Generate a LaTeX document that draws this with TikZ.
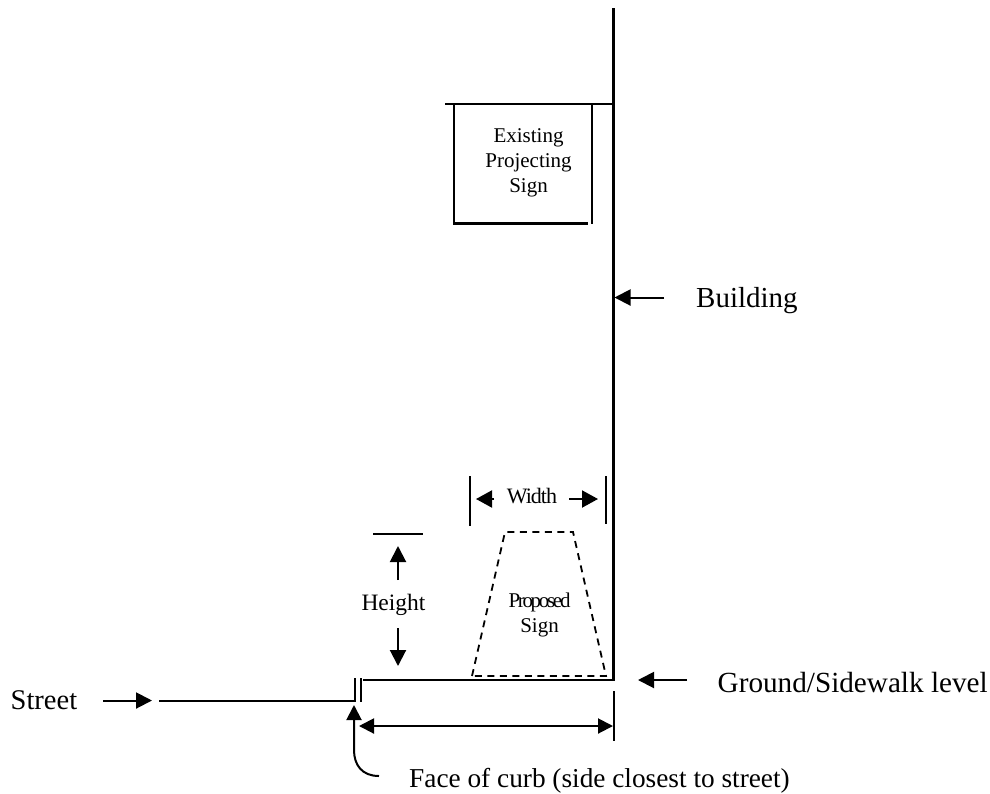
\documentclass[tikz,border=0pt]{standalone}
\usepackage{fontspec}
\setmainfont{Liberation Serif}
\usetikzlibrary{arrows.meta}
\tikzset{
 ln/.style={line width=2pt,black,line cap=butt},
 thick2/.style={line width=2.3pt,black},
 arr/.style={ln,-{Triangle[length=16pt,width=16pt]}},
 dsh/.style={line width=1.8pt,dash pattern=on 7pt off 5.5pt},
 lbl/.style={inner sep=0pt,align=center},
}
\begin{document}
\begin{tikzpicture}[x=1pt,y=-1pt]
\useasboundingbox (0,0) rectangle (990,793);
% building and ground
\coordinate (bt) at (613.5,8);
\coordinate (bc) at (613.5,680);
\coordinate (gl) at (363,680);
\draw[thick2,line join=miter] (bt) -- (bc) -- (gl);
% existing sign
\coordinate (a1) at (445,104);
\coordinate (a2) at (613.5,104);
\draw[thick2] (a1) -- (a2);
\coordinate (s1) at (454,104);
\coordinate (s2) at (454,223.5);
\coordinate (s3) at (588,223.5);
\coordinate (s4) at (592,104);
\coordinate (s5) at (592,224);
\draw[thick2] (s1) -- (s2) -- (s3);
\draw[thick2] (s4) -- (s5);
\node[lbl,font=\fontsize{21}{25}\selectfont] (existing) at (528.5,163) {Existing\\Projecting\\Sign};
% building label
\node[lbl,anchor=base west,font=\fontsize{29}{32}\selectfont] (building) at (696,307.5) {Building};
\coordinate (bp) at (614.5,297.5);
\coordinate (bq) at (664,297.5);
\draw[arr] (bq) -- (bp);
% width
\coordinate (w1a) at (470,476);
\coordinate (w1b) at (470,526);
\coordinate (w2a) at (606,476);
\coordinate (w2b) at (606,524);
\draw[ln] (w1a) -- (w1b);
\draw[ln] (w2a) -- (w2b);
\node[lbl,font=\fontsize{22}{24}\selectfont] (width) at (532,496) {\addfontfeatures{LetterSpace=-4.5}Width};
\coordinate (wl) at (476,499);
\coordinate (wl0) at (494,499);
\coordinate (wr) at (598,499);
\coordinate (wr0) at (569,499);
\draw[ln,-{Triangle[length=16pt,width=17pt]}] (wl0) -- (wl);
\draw[ln,-{Triangle[length=16pt,width=17pt]}] (wr0) -- (wr);
% proposed sign
\coordinate (p1) at (472,676);
\coordinate (p2) at (505,532);
\coordinate (p3) at (573,532);
\coordinate (p4) at (606,676);
\draw[dsh] (p1) -- (p2) -- (p3) -- (p4) -- cycle;
\node[lbl,font=\fontsize{21}{24.5}\selectfont] (proposed) at (539.5,615) {{\addfontfeatures{LetterSpace=-11}Proposed}\\Sign};
% height
\coordinate (ht1) at (373,534);
\coordinate (ht2) at (423,534);
\draw[ln] (ht1) -- (ht2);
\node[lbl,font=\fontsize{23.5}{26}\selectfont] (height) at (393.5,605) {Height};
\coordinate (hu0) at (398,580);
\coordinate (hu) at (398,546);
\coordinate (hd0) at (398,628);
\coordinate (hd) at (398,666);
\draw[ln,-{Triangle[length=16pt,width=16pt]}] (hu0) -- (hu);
\draw[ln,-{Triangle[length=16pt,width=16pt]}] (hd0) -- (hd);
% curb
\coordinate (c1a) at (355,678);
\coordinate (c1b) at (355,702);
\coordinate (c2a) at (361,678);
\coordinate (c2b) at (361,702);
\draw[ln] (c1a) -- (c1b);
\draw[ln] (c2a) -- (c2b);
% street
\coordinate (st0) at (159,700.5);
\coordinate (st1) at (354,700.5);
\draw[ln] (st0) -- (st1);
\node[lbl,anchor=base west,font=\fontsize{28.5}{32}\selectfont] (street) at (10.5,709) {Street};
\coordinate (sa0) at (103,700.5);
\coordinate (sa) at (152,700.5);
\draw[arr] (sa0) -- (sa);
% ground label
\node[lbl,anchor=base west,font=\fontsize{29.2}{32}\selectfont] (ground) at (717.5,692.5) {Ground/Sidewalk level};
\coordinate (ga0) at (687,680);
\coordinate (ga) at (638,680);
\draw[arr] (ga0) -- (ga);
% dimension
\coordinate (d1) at (613.5,691);
\coordinate (d2) at (613.5,741);
\draw[ln] (d1) -- (d2);
\coordinate (dl) at (359,726);
\coordinate (dr) at (613,726);
\draw[ln,{Triangle[length=15pt,width=15pt]}-{Triangle[length=15pt,width=15pt]}] (dl) -- (dr);
% face of curb
\node[lbl,anchor=base west,font=\fontsize{27.3}{32}\selectfont] (face) at (409,787.5) {Face of curb (side closest to street)};
\coordinate (f0) at (379,776);
\coordinate (f1) at (354,705);
\draw[ln,-{Triangle[length=15pt,width=15pt]}] (f0) .. controls (362,776) and (354,765) .. (354,750) -- (f1);
\end{tikzpicture}
\end{document}
